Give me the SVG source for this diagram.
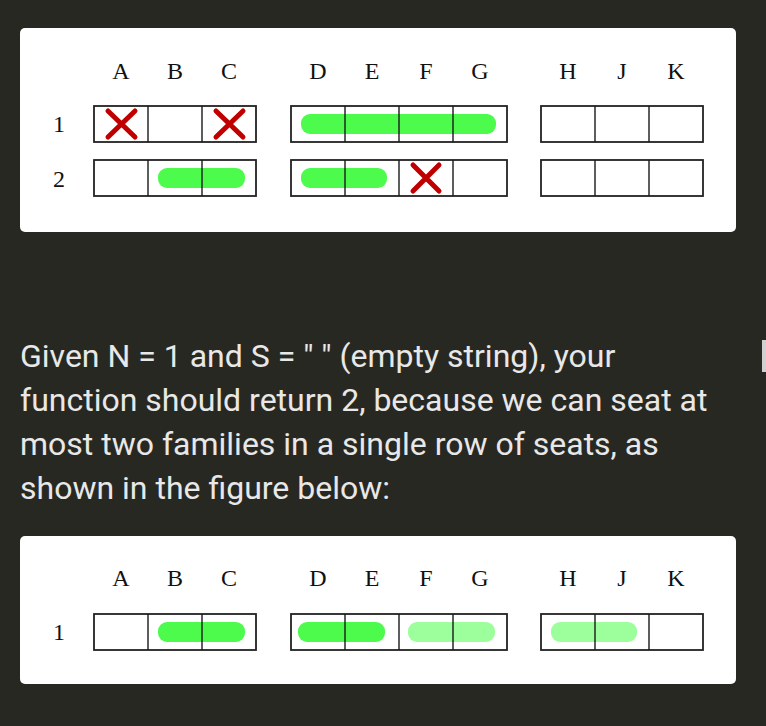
<svg xmlns="http://www.w3.org/2000/svg" width="766" height="726" viewBox="0 0 766 726">
<style>
.panel{fill:#ffffff}
.lbl{font-family:"Liberation Serif","DejaVu Serif",serif;font-size:24px;fill:#111;text-anchor:middle}
.cell{fill:none;stroke:#1a1a1a;stroke-width:1.4}
.outer{fill:none;stroke:#222;stroke-width:1.8}
.bar{fill:#4dfb4d}
.bar2{fill:#9cff9c}
.x{stroke:#c00000;stroke-width:5;stroke-linecap:round;fill:none}
.txt{font-family:Roboto,"Liberation Sans",sans-serif;font-size:32px;fill:#e8e8e8}
</style>
<rect x="0" y="0" width="766" height="726" fill="#282823"/>
<rect x="762" y="340" width="4" height="32" fill="#d0d0d0"/>

<g id="panel-top">
<rect class="panel" x="20" y="28" width="716" height="204" rx="5"/>
<g id="col-labels-top">
<text class="lbl" x="121" y="79">A</text><text class="lbl" x="175" y="79">B</text><text class="lbl" x="229" y="79">C</text>
<text class="lbl" x="318" y="79">D</text><text class="lbl" x="372" y="79">E</text><text class="lbl" x="426" y="79">F</text><text class="lbl" x="480" y="79">G</text>
<text class="lbl" x="568" y="79">H</text><text class="lbl" x="622" y="79">J</text><text class="lbl" x="676" y="79">K</text>
</g>
<text class="lbl" x="59" y="132">1</text>
<text class="lbl" x="59" y="187">2</text>

<g id="r1-abc">
<rect class="outer" x="94" y="106" width="162" height="36"/>
<path class="cell" d="M148 106V142M202 106V142"/>
<path class="x" d="M108 111L135 137M135 111L108 137"/>
<path class="x" d="M216 111L243 137M243 111L216 137"/>
</g>
<g id="r1-defg">
<rect class="bar" x="301" y="114" width="195" height="20" rx="9"/>
<rect class="outer" x="291" y="106" width="216" height="36"/>
<path class="cell" d="M345 106V142M399 106V142M453 106V142"/>
</g>
<g id="r1-hjk">
<rect class="outer" x="541" y="106" width="162" height="36"/>
<path class="cell" d="M595 106V142M649 106V142"/>
</g>
<g id="r2-abc">
<rect class="bar" x="158" y="168" width="87" height="20" rx="9"/>
<rect class="outer" x="94" y="160" width="162" height="36"/>
<path class="cell" d="M148 160V196M202 160V196"/>
</g>
<g id="r2-defg">
<rect class="bar" x="301" y="168" width="86" height="20" rx="9"/>
<rect class="outer" x="291" y="160" width="216" height="36"/>
<path class="cell" d="M345 160V196M399 160V196M453 160V196"/>
<path class="x" d="M413 165L439 191M439 165L413 191"/>
</g>
<g id="r2-hjk">
<rect class="outer" x="541" y="160" width="162" height="36"/>
<path class="cell" d="M595 160V196M649 160V196"/>
</g>
</g>

<g id="description">
<text class="txt" x="20" y="367">Given N = 1 and S = " " (empty string), your</text>
<text class="txt" x="20" y="411">function should return 2, because we can seat at</text>
<text class="txt" x="20" y="455">most two families in a single row of seats, as</text>
<text class="txt" x="20" y="499">shown in the figure below:</text>
</g>

<g id="panel-bottom">
<rect class="panel" x="20" y="536" width="716" height="148" rx="5"/>
<g id="col-labels-bottom">
<text class="lbl" x="121" y="586">A</text><text class="lbl" x="175" y="586">B</text><text class="lbl" x="229" y="586">C</text>
<text class="lbl" x="318" y="586">D</text><text class="lbl" x="372" y="586">E</text><text class="lbl" x="426" y="586">F</text><text class="lbl" x="480" y="586">G</text>
<text class="lbl" x="568" y="586">H</text><text class="lbl" x="622" y="586">J</text><text class="lbl" x="676" y="586">K</text>
</g>
<text class="lbl" x="59" y="640">1</text>
<g id="b-abc">
<rect class="bar" x="158" y="622" width="87" height="20" rx="9"/>
<rect class="outer" x="94" y="614" width="162" height="36"/>
<path class="cell" d="M148 614V650M202 614V650"/>
</g>
<g id="b-defg">
<rect class="bar" x="298" y="622" width="87" height="20" rx="9"/>
<rect class="bar2" x="408" y="622" width="87" height="20" rx="9"/>
<rect class="outer" x="291" y="614" width="216" height="36"/>
<path class="cell" d="M345 614V650M399 614V650M453 614V650"/>
</g>
<g id="b-hjk">
<rect class="bar2" x="551" y="622" width="86" height="20" rx="9"/>
<rect class="outer" x="541" y="614" width="162" height="36"/>
<path class="cell" d="M595 614V650M649 614V650"/>
</g>
</g>
</svg>
